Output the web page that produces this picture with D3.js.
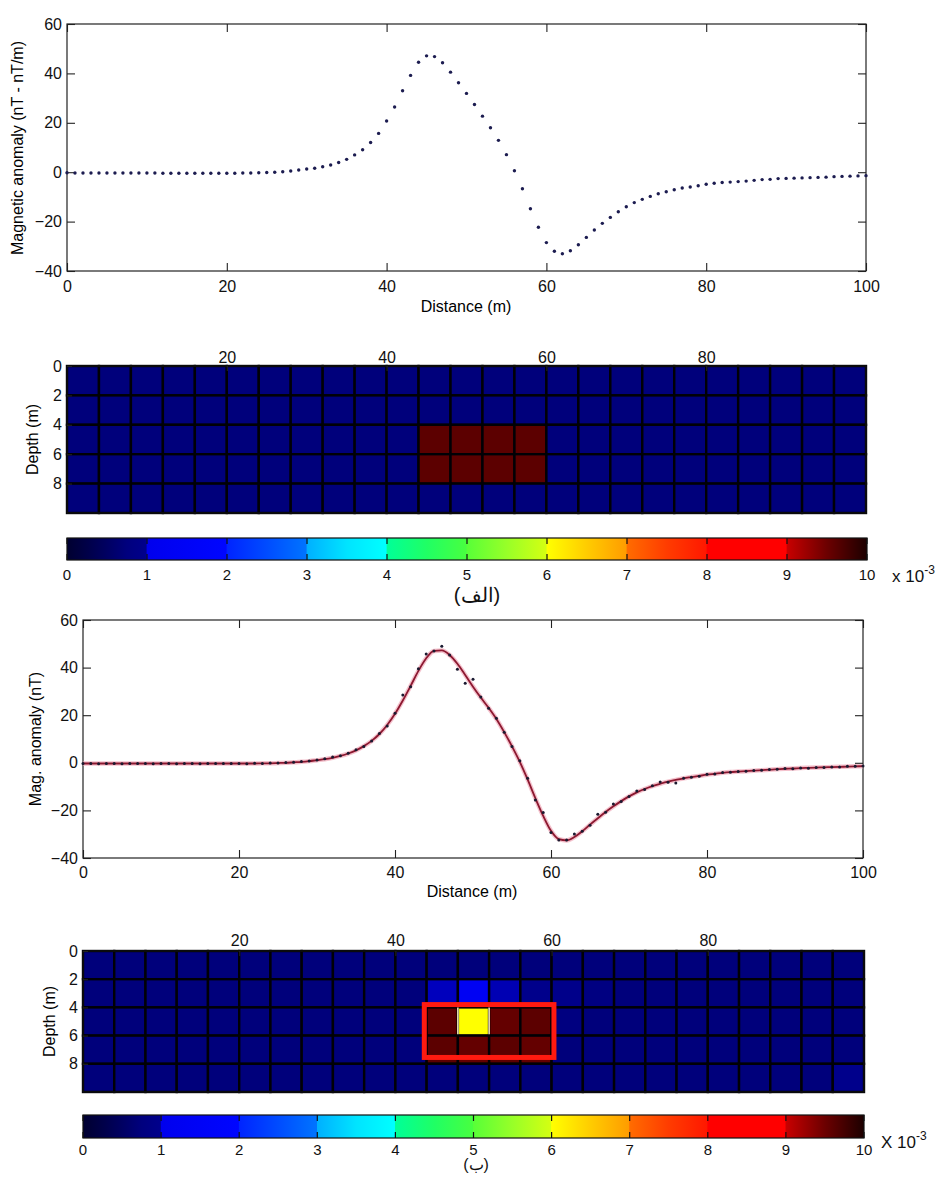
<!DOCTYPE html>
<html><head><meta charset="utf-8">
<script src="https://cdn.jsdelivr.net/npm/d3@7"></script>
<style>
body{margin:0;background:#fff}
svg text{font-family:"Liberation Sans",Arial,sans-serif}
</style>
</head><body>
<svg id="chart" width="948" height="1179"></svg>
<script>
// ---------------- DATA ----------------
const distances = d3.range(0, 101, 1); // sample positions (m)

// panel (a): magnetic anomaly (dots)
const anomalyA = [
 -0.2,-0.3,-0.3,-0.3,-0.3,-0.3,-0.3,-0.3,-0.3,-0.3,
 -0.3,-0.3,-0.4,-0.4,-0.4,-0.4,-0.4,-0.4,-0.4,-0.4,
 -0.4,-0.4,-0.3,-0.3,-0.2,-0.1,0.0,0.2,0.5,0.9,
 1.3,1.6,2.2,2.9,3.9,5.2,7.0,9.1,12.0,15.7,
 20.7,26.4,33.0,39.2,44.5,47.1,46.8,44.3,40.5,36.2,
 31.9,27.4,22.7,18.0,12.9,7.1,0.6,-6.7,-14.8,-22.3,
 -28.5,-32.0,-33.0,-31.8,-29.4,-26.4,-23.4,-20.7,-18.3,-16.0,
 -14.0,-12.3,-11.0,-9.8,-8.7,-7.9,-7.1,-6.4,-6.0,-5.5,
 -4.9,-4.5,-4.2,-4.0,-3.8,-3.6,-3.3,-3.0,-2.9,-2.6,
 -2.5,-2.4,-2.3,-2.2,-2.1,-2.0,-1.8,-1.7,-1.6,-1.5,-1.4
];

// panel (b): observed (noisy) anomaly dots
const anomalyObs = [
 -0.3,-0.3,-0.4,-0.3,-0.3,-0.4,-0.3,-0.3,-0.3,-0.4,
 -0.3,-0.3,-0.4,-0.3,-0.3,-0.4,-0.3,-0.3,-0.3,-0.3,
 -0.3,-0.4,-0.2,-0.3,-0.1,-0.1,0.1,0.2,0.5,0.8,
 1.2,1.7,2.4,3.0,4.0,5.5,6.9,9.2,12.3,15.5,
 20.8,28.5,32.0,39.5,45.7,47.0,49.0,45.3,39.3,33.4,
 35.1,27.6,22.9,18.7,12.8,6.8,0.9,-6.5,-15.6,-20.9,
 -29.3,-32.4,-32.4,-29.9,-28.8,-26.2,-21.6,-20.8,-17.3,-16.3,
 -14.2,-11.9,-11.2,-9.6,-8.1,-8.2,-8.5,-6.5,-6.1,-5.6,
 -4.8,-4.7,-4.1,-4.0,-3.7,-3.6,-3.2,-3.1,-2.8,-2.7,
 -2.4,-2.5,-2.2,-2.3,-2.0,-2.0,-1.8,-1.8,-1.5,-1.5,-1.3
];

// panel (b): calculated anomaly (line)
const anomalyCalc = [
 -0.3,-0.3,-0.3,-0.3,-0.3,-0.3,-0.3,-0.3,-0.3,-0.3,
 -0.3,-0.3,-0.3,-0.3,-0.3,-0.3,-0.3,-0.3,-0.3,-0.3,
 -0.3,-0.3,-0.3,-0.2,-0.2,-0.1,0.0,0.2,0.4,0.7,
 1.1,1.5,2.1,2.9,3.9,5.2,7.0,9.2,12.1,15.9,
 20.6,26.2,32.3,38.6,43.9,47.0,47.2,45.3,41.6,36.9,
 32.0,27.4,23.1,18.4,12.9,6.9,0.4,-7.0,-14.9,-22.3,
 -28.6,-32.1,-32.6,-31.2,-28.8,-26.0,-23.3,-20.7,-18.3,-16.1,
 -14.1,-12.4,-11.0,-9.8,-8.8,-7.9,-7.2,-6.5,-6.0,-5.5,
 -5.0,-4.6,-4.2,-3.9,-3.7,-3.5,-3.3,-3.1,-2.9,-2.7,
 -2.5,-2.4,-2.2,-2.1,-2.0,-1.9,-1.8,-1.7,-1.6,-1.5,-1.4
];

// susceptibility models (x 10^-3), 5 depth rows (2 m) x 25 columns (4 m)
const cellWidth = 4, cellHeight = 2;
const modelTrue = [
 [0.72,0.72,0.72,0.72,0.72,0.72,0.72,0.72,0.72,0.72,0.72,0.72,0.72,0.72,0.72,0.72,0.72,0.72,0.72,0.72,0.72,0.72,0.72,0.72,0.72],
 [0.72,0.72,0.72,0.72,0.72,0.72,0.72,0.72,0.72,0.72,0.72,0.72,0.72,0.72,0.72,0.72,0.72,0.72,0.72,0.72,0.72,0.72,0.72,0.72,0.72],
 [0.72,0.72,0.72,0.72,0.72,0.72,0.72,0.72,0.72,0.72,0.72,9.6,9.6,9.6,9.6,0.72,0.72,0.72,0.72,0.72,0.72,0.72,0.72,0.72,0.72],
 [0.72,0.72,0.72,0.72,0.72,0.72,0.72,0.72,0.72,0.72,0.72,9.6,9.6,9.6,9.6,0.72,0.72,0.72,0.72,0.72,0.72,0.72,0.72,0.72,0.72],
 [0.72,0.72,0.72,0.72,0.72,0.72,0.72,0.72,0.72,0.72,0.72,0.72,0.72,0.72,0.72,0.72,0.72,0.72,0.72,0.72,0.72,0.72,0.72,0.72,0.72]
];
const modelInv = [
 [0.72,0.72,0.72,0.72,0.72,0.72,0.72,0.72,0.72,0.72,0.72,0.72,0.72,0.72,0.72,0.72,0.72,0.72,0.72,0.72,0.72,0.72,0.72,0.72,0.72],
 [0.72,0.72,0.72,0.72,0.72,0.72,0.72,0.72,0.72,0.72,0.72,0.995,1.3,0.994,0.97,0.96,0.8,0.72,0.72,0.72,0.72,0.72,0.72,0.72,0.72],
 [0.72,0.72,0.72,0.72,0.72,0.72,0.72,0.72,0.72,0.72,0.72,9.6,6.0,9.55,9.6,0.78,0.72,0.72,0.72,0.72,0.72,0.72,0.72,0.72,0.72],
 [0.72,0.72,0.72,0.72,0.72,0.72,0.72,0.72,0.72,0.72,0.72,9.6,9.55,9.6,9.55,0.72,0.72,0.72,0.72,0.72,0.72,0.72,0.72,0.72,0.72],
 [0.72,0.72,0.72,0.72,0.72,0.72,0.72,0.72,0.72,0.72,0.72,0.72,0.72,0.72,0.72,0.72,0.72,0.72,0.72,0.72,0.72,0.72,0.72,0.72,0.97]
];
// true body outline [x0, x1, depth0, depth1]
const bodyOutline = [43.7, 60.3, 3.8, 7.55];

// colormap stops (value x10^-3, colour)
const cmapValues = [0,0.25,0.5,0.75,0.99,1.0,1.99,2.0,2.5,2.99,3.0,3.5,3.99,4.0,4.5,4.99,5.0,5.5,5.99,6.0,6.5,6.99,7.0,7.5,7.99,8.0,8.99,9.0,9.5,10];
const cmapColors = ['#000030','#000048','#000062','#00007e','#00008c','#0000ee','#0006ff','#0024ff','#004cff','#0074ff','#00b0ff','#00e4ff','#00ffff','#00ff98','#20ff64','#48ff40','#58ff38','#98ff28','#d4ff12','#ffff00','#ffcc00','#ff9c00','#ff6c00','#ff3c00','#ff1800','#ff0000','#ff0000','#c80000','#6c0000','#1c0000'];

const xTicks = [0,20,40,60,80,100];
const yTicks = [-40,-20,0,20,40,60];
const gridXTicks = [20,40,60,80];
const depthTicks = [0,2,4,6,8];
const cbTicks = [0,1,2,3,4,5,6,7,8,9,10];

// ---------------- DRAW ----------------
const svg = d3.select('#chart');
svg.append('rect').attr('width',948).attr('height',1179).attr('fill','#fff');
const cmap = d3.scaleLinear().domain(cmapValues).range(cmapColors).clamp(true);
const FONT = 16;

function styleAxis(g){
  g.attr('font-size',FONT).attr('font-family','"Liberation Sans",Arial,sans-serif');
  g.select('.domain').remove();
  g.selectAll('.tick line').attr('stroke','#222').attr('stroke-width',1.1);
  g.selectAll('.tick text').attr('fill','#111');
}

function linePanel(x, y, xPad, yPad){
  const [x0,x1] = x.range(), [y1,y0] = y.range();
  svg.append('g').attr('transform',`translate(0,${y1})`)
    .call(d3.axisBottom(x).tickValues(xTicks).tickSizeInner(-8).tickSizeOuter(0).tickPadding(xPad)).call(styleAxis);
  svg.append('g').attr('transform',`translate(0,${y0})`)
    .call(d3.axisTop(x).tickValues(xTicks).tickSizeInner(-8).tickSizeOuter(0).tickFormat('')).call(styleAxis);
  svg.append('g').attr('transform',`translate(${x0},0)`)
    .call(d3.axisLeft(y).tickValues(yTicks).tickSizeInner(-8).tickSizeOuter(0).tickPadding(yPad)).call(styleAxis);
  svg.append('g').attr('transform',`translate(${x1},0)`)
    .call(d3.axisRight(y).tickValues(yTicks).tickSizeInner(-8).tickSizeOuter(0).tickFormat('')).call(styleAxis);
  svg.append('rect').attr('x',x0).attr('y',y0).attr('width',x1-x0).attr('height',y1-y0)
    .attr('fill','none').attr('stroke','#222').attr('stroke-width',1.2);
}

// ---- Panel 1 ----
const x1s = d3.scaleLinear().domain([0,100]).range([67,866]);
const y1s = d3.scaleLinear().domain([-40,60]).range([271,24]);
linePanel(x1s, y1s, 10, 5);
svg.append('g').selectAll('circle').data(distances).join('circle')
  .attr('cx',(d)=>x1s(d)).attr('cy',(d,i)=>y1s(anomalyA[i])).attr('r',1.7).attr('fill','#1c1c50');
svg.append('text').attr('x',466).attr('y',312).attr('text-anchor','middle').attr('font-size',FONT).text('Distance (m)');
svg.append('text').attr('transform','translate(23,148) rotate(-90)').attr('text-anchor','middle').attr('font-size',FONT).text('Magnetic anomaly (nT - nT/m)');

// ---- Panel 2 (grid a) ----
function gridPanel(model, gx, gy, topPad, leftPad, labelX){
  const g = svg.append('g');
  model.forEach((row, r) => {
    row.forEach((v, c) => {
      g.append('rect').attr('x', gx(c*cellWidth)).attr('y', gy(r*cellHeight))
        .attr('width', gx(cellWidth)-gx(0)).attr('height', gy(cellHeight)-gy(0))
        .attr('fill', cmap(v)).attr('stroke','#000005').attr('stroke-width',2.4);
    });
  });
  const [x0,x1] = gx.range(), [y0,y1] = gy.range();
  svg.append('rect').attr('x',x0).attr('y',y0).attr('width',x1-x0).attr('height',y1-y0)
    .attr('fill','none').attr('stroke','#111').attr('stroke-width',1.2);
  svg.append('g').attr('transform',`translate(0,${y0})`)
    .call(d3.axisTop(gx).tickValues(gridXTicks).tickSizeInner(-5).tickSizeOuter(0).tickPadding(topPad)).call(styleAxis);
  svg.append('g').attr('transform',`translate(${x0},0)`)
    .call(d3.axisLeft(gy).tickValues(depthTicks).tickSizeInner(-5).tickSizeOuter(0).tickPadding(leftPad)).call(styleAxis);
  svg.append('text').attr('transform',`translate(${labelX},${(y0+y1)/2}) rotate(-90)`).attr('text-anchor','middle')
    .attr('font-size',FONT).text('Depth (m)');
  return g;
}
const gx1 = d3.scaleLinear().domain([0,100]).range([67,866]);
const gy1 = d3.scaleLinear().domain([0,10]).range([366,513]);
gridPanel(modelTrue, gx1, gy1, 3, 5, 38);

// ---- colorbars ----
const defs = svg.append('defs');
const grad = defs.append('linearGradient').attr('id','cmapGrad').attr('x1','0%').attr('x2','100%').attr('y1','0%').attr('y2','0%');
cmapValues.forEach((v,i)=>grad.append('stop').attr('offset',(v/10*100)+'%').attr('stop-color',cmapColors[i]));

function colorbar(cx, y0, y1, labY, expX, expY, expChar, labelFont){
  const [a,b] = cx.range();
  svg.append('rect').attr('x',a).attr('y',y0).attr('width',b-a).attr('height',y1-y0)
    .attr('fill','url(#cmapGrad)').attr('stroke','#111').attr('stroke-width',1.2);
  const t = svg.append('g');
  cbTicks.forEach(v=>{
    t.append('line').attr('x1',cx(v)).attr('x2',cx(v)).attr('y1',y0).attr('y2',y0+6).attr('stroke','#111').attr('stroke-width',1.2);
    t.append('line').attr('x1',cx(v)).attr('x2',cx(v)).attr('y1',y1-6).attr('y2',y1).attr('stroke','#111').attr('stroke-width',1.2);
    t.append('text').attr('x',cx(v)).attr('y',labY).attr('text-anchor','middle').attr('font-size',labelFont).attr('fill','#111').text(v);
  });
  const e = svg.append('text').attr('x',expX).attr('y',expY).attr('font-size',17).attr('fill','#111');
  e.append('tspan').text(expChar+' 10');
  e.append('tspan').attr('dy',-8).attr('font-size',12).text('-3');
}
const cbx1 = d3.scaleLinear().domain([0,10]).range([67,867]);
colorbar(cbx1, 538, 560, 580, 892, 582, 'x', 15);
svg.append('text').attr('x',477).attr('y',602).attr('text-anchor','middle')
  .attr('font-family','"DejaVu Sans",sans-serif').attr('font-size',20).attr('fill','#111').text('(الف)');

// ---- Panel 3 ----
const x2s = d3.scaleLinear().domain([0,100]).range([83,863]);
const y2s = d3.scaleLinear().domain([-40,60]).range([858,620]);
linePanel(x2s, y2s, 9, 5);
const lineGen = d3.line().x((d)=>x2s(d)).y((d,i)=>y2s(anomalyCalc[i])).curve(d3.curveMonotoneX);
svg.append('path').datum(distances).attr('d',lineGen).attr('fill','none').attr('stroke','#f0a8b8').attr('stroke-width',4.5).attr('opacity',0.7);
svg.append('path').datum(distances).attr('d',lineGen).attr('fill','none').attr('stroke','#8c1830').attr('stroke-width',1.8);
svg.append('g').selectAll('circle').data(distances).join('circle')
  .attr('cx',(d)=>x2s(d)).attr('cy',(d,i)=>y2s(anomalyObs[i])).attr('r',1.5).attr('fill','#1a1a30');
svg.append('text').attr('x',472).attr('y',897).attr('text-anchor','middle').attr('font-size',FONT).text('Distance (m)');
svg.append('text').attr('transform','translate(41,739) rotate(-90)').attr('text-anchor','middle').attr('font-size',FONT).text('Mag. anomaly (nT)');

// ---- Panel 4 (grid b) ----
const gx2 = d3.scaleLinear().domain([0,100]).range([83,864]);
const gy2 = d3.scaleLinear().domain([0,10]).range([951,1092]);
gridPanel(modelInv, gx2, gy2, 5, 5, 55);
// pale edges around the yellow cell
[48,52].forEach(v=>{
  svg.append('line').attr('x1',gx2(v)).attr('x2',gx2(v)).attr('y1',gy2(4)).attr('y2',gy2(5.9))
    .attr('stroke','#f4e8b8').attr('stroke-width',1.6);
});
svg.append('rect').attr('x',gx2(bodyOutline[0])).attr('y',gy2(bodyOutline[2]))
  .attr('width',gx2(bodyOutline[1])-gx2(bodyOutline[0])).attr('height',gy2(bodyOutline[3])-gy2(bodyOutline[2]))
  .attr('fill','none').attr('stroke','#ff1a10').attr('stroke-width',5);

const cbx2 = d3.scaleLinear().domain([0,10]).range([83,864]);
colorbar(cbx2, 1115, 1138, 1155, 881, 1148, 'X', 15);
svg.append('text').attr('x',476).attr('y',1170).attr('text-anchor','middle')
  .attr('font-family','"DejaVu Sans",sans-serif').attr('font-size',16).attr('fill','#111').text('(ب)');
</script>
</body></html>
